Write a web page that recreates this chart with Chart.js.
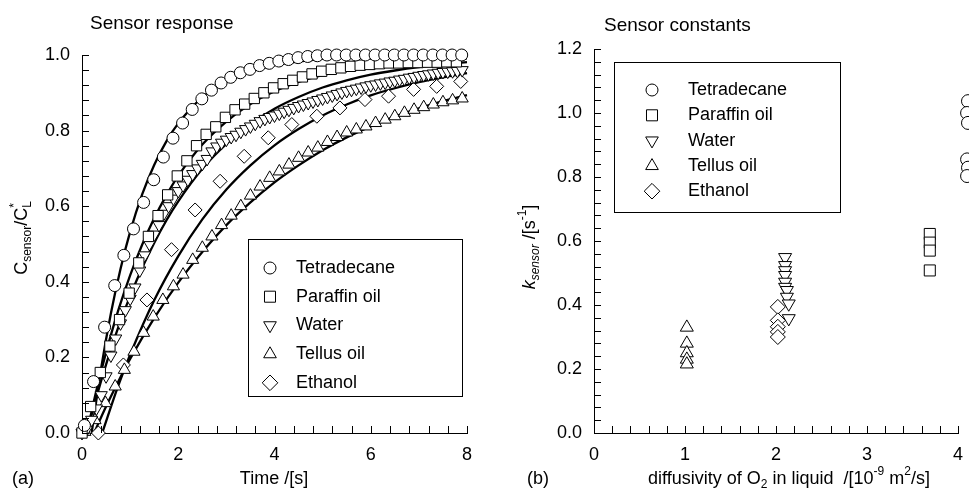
<!DOCTYPE html>
<html>
<head>
<meta charset="utf-8">
<script src="https://cdn.jsdelivr.net/npm/chart.js@4.4.0/dist/chart.umd.min.js"></script>
<style>
  html, body { margin: 0; padding: 0; background: #fff; }
  #wrap { position: relative; width: 969px; height: 498px; overflow: hidden; }
  .panel { position: absolute; top: 0; height: 498px; }
</style>
</head>
<body>
<div id="wrap">
  <div class="panel" style="left:0;width:484px"><canvas id="chartA"></canvas></div>
  <div class="panel" style="left:484px;width:485px"><canvas id="chartB"></canvas></div>
</div>
<script>
const FONT = "'Liberation Sans', Arial, Helvetica, sans-serif";

// ---- (a) Sensor response : mesures ----
const tetraTime = [0.05,0.24,0.47,0.68,0.87,1.07,1.28,1.49,1.69,1.89,2.09,2.29,2.49,2.69,2.89,3.09,3.29,3.49,3.69,3.89,4.09,4.29,4.49,4.69,4.89,5.09,5.29,5.49,5.69,5.89,6.09,6.29,6.49,6.69,6.89,7.09,7.29,7.49,7.69,7.89];
const tetraResp = [0.02,0.136,0.28,0.39,0.47,0.54,0.61,0.67,0.73,0.78,0.82,0.856,0.884,0.907,0.926,0.941,0.953,0.962,0.972,0.978,0.984,0.988,0.993,0.996,0.998,1.0,1.0,1.0,1.0,1.0,1.0,1.0,1.0,1.0,1.0,1.0,1.0,1.0,1.0,1.0];

const paraTime = [0.0,0.18,0.38,0.58,0.78,0.98,1.18,1.38,1.58,1.78,1.98,2.18,2.38,2.58,2.78,2.98,3.18,3.38,3.58,3.78,3.98,4.18,4.38,4.58,4.78,4.98,5.18,5.38,5.58,5.78,5.98,6.18,6.38,6.58,6.78,6.98,7.18,7.38,7.58,7.78];
const paraResp = [0.0,0.07,0.16,0.23,0.30,0.37,0.45,0.52,0.575,0.63,0.68,0.72,0.76,0.79,0.81,0.835,0.855,0.87,0.885,0.90,0.913,0.924,0.933,0.942,0.95,0.957,0.962,0.966,0.97,0.973,0.975,0.977,0.979,0.979,0.98,0.98,0.981,0.981,0.982,0.982];

const waterTime = [0.0,0.1,0.2,0.3,0.4,0.5,0.6,0.7,0.8,0.9,1.0,1.1,1.2,1.3,1.4,1.5,1.6,1.7,1.8,1.9,2.0,2.1,2.2,2.3,2.4,2.5,2.6,2.7,2.8,2.9,3.0,3.1,3.2,3.3,3.4,3.5,3.6,3.7,3.8,3.9,4.0,4.1,4.2,4.3,4.4,4.5,4.6,4.7,4.8,4.9,5.0,5.1,5.2,5.3,5.4,5.5,5.6,5.7,5.8,5.9,6.0,6.1,6.2,6.3,6.4,6.5,6.6,6.7,6.8,6.9,7.0,7.1,7.2,7.3,7.4,7.5,7.6,7.7,7.8,7.9];
const waterResp = [0.0,0.01,0.035,0.065,0.10,0.15,0.205,0.25,0.29,0.325,0.355,0.385,0.43,0.47,0.50,0.525,0.55,0.58,0.60,0.62,0.64,0.655,0.67,0.685,0.70,0.712,0.725,0.745,0.758,0.768,0.776,0.783,0.789,0.797,0.804,0.811,0.818,0.825,0.831,0.836,0.84,0.845,0.85,0.855,0.86,0.865,0.869,0.873,0.877,0.881,0.885,0.889,0.893,0.897,0.901,0.905,0.908,0.911,0.914,0.917,0.92,0.922,0.925,0.927,0.93,0.932,0.935,0.937,0.94,0.942,0.945,0.947,0.949,0.951,0.953,0.955,0.956,0.957,0.958,0.96];

const tellusTime = [0.06,0.27,0.49,0.69,0.88,1.08,1.28,1.48,1.68,1.9,2.1,2.3,2.5,2.7,2.9,3.1,3.3,3.5,3.7,3.9,4.1,4.3,4.5,4.7,4.9,5.1,5.3,5.5,5.7,5.9,6.1,6.3,6.5,6.7,6.9,7.1,7.3,7.5,7.7,7.9];
const tellusResp = [0.003,0.034,0.079,0.123,0.167,0.215,0.265,0.308,0.352,0.388,0.419,0.458,0.49,0.52,0.55,0.575,0.60,0.628,0.652,0.675,0.692,0.71,0.728,0.742,0.755,0.77,0.783,0.795,0.803,0.811,0.82,0.829,0.838,0.847,0.855,0.862,0.869,0.875,0.88,0.885];

const ethTime = [0.34,0.86,1.35,1.86,2.35,2.87,3.37,3.87,4.36,4.88,5.36,5.88,6.37,6.89,7.37,7.87];
const ethResp = [0.0,0.18,0.352,0.485,0.59,0.666,0.732,0.781,0.816,0.838,0.86,0.882,0.891,0.909,0.917,0.93];

// ---- (a) courbes ajustées ----
const tetraFitT = [0.2,0.4,0.6,0.8,1.0,1.25,1.5,1.75,2.0,2.5,3.0,3.5,4.0,5.0,6.0,7.0,8.0];
const tetraFitC = [0,0.173,0.316,0.434,0.532,0.631,0.709,0.771,0.819,0.888,0.930,0.956,0.973,0.990,0.996,0.998,0.999];
const paraFitT = [0.1,0.3,0.5,0.75,1.0,1.25,1.5,1.75,2.0,2.5,3.0,3.5,4.0,4.5,5.0,5.5,6.0,6.5,7.0,7.5,8.0];
const paraFitC = [0,0.113,0.213,0.323,0.417,0.498,0.568,0.628,0.680,0.763,0.824,0.870,0.904,0.929,0.947,0.961,0.971,0.979,0.984,0.988,0.991];
const waterFitT = [0.1,0.3,0.5,0.75,1.0,1.25,1.5,1.75,2.0,2.5,3.0,3.5,4.0,4.5,5.0,5.5,6.0,6.5,7.0,7.5,8.0];
const waterFitC = [0,0.095,0.181,0.278,0.362,0.437,0.503,0.562,0.613,0.699,0.765,0.817,0.858,0.889,0.914,0.933,0.948,0.959,0.968,0.975,0.981];
const tellusFitT = [0.25,0.5,0.75,1.0,1.5,2.0,2.5,3.0,3.5,4.0,4.5,5.0,5.5,6.0,6.5,7.0,7.5,8.0];
const tellusFitC = [0,0.070,0.135,0.196,0.304,0.398,0.479,0.550,0.610,0.663,0.708,0.748,0.782,0.811,0.837,0.859,0.878,0.894];
const ethFitT = [0.42,0.75,1.0,1.5,2.0,2.5,3.0,3.5,4.0,4.5,5.0,5.5,6.0,6.5,7.0,7.5,8.0];
const ethFitC = [0,0.124,0.207,0.351,0.468,0.565,0.644,0.708,0.761,0.804,0.840,0.869,0.893,0.912,0.928,0.941,0.952];

// ---- (b) Sensor constants ----
// x de Tetradecane non triés : Chart.js garde alors les points au-delà de max
const tetraD = [4.11,4.10,4.11,4.10,4.11,4.10];
const tetraK = [1.037,1.0,0.969,0.855,0.829,0.803];
const paraD = [3.69,3.69,3.69,3.69];
const paraK = [0.622,0.595,0.57,0.508];
const waterD = [2.1,2.1,2.1,2.1,2.1,2.1,2.12,2.12,2.14,2.14];
const waterK = [0.549,0.524,0.508,0.493,0.472,0.456,0.446,0.425,0.404,0.358];
const tellusD = [1.02,1.02,1.02,1.02,1.02];
const tellusK = [0.33,0.28,0.25,0.23,0.215];
const ethD = [2.02,2.02,2.02,2.02,2.02];
const ethK = [0.394,0.352,0.332,0.316,0.30];

const liquids = ['Tetradecane', 'Paraffin oil', 'Water', 'Tellus oil', 'Ethanol'];
const markers = [
  { style: 'circle', rot: 0 },
  { style: 'rect', rot: 0 },
  { style: 'triangle', rot: 180 },
  { style: 'triangle', rot: 0 },
  { style: 'rectRot', rot: 0 }
];

const pts = (xs, ys) => xs.map((x, i) => ({ x: x, y: ys[i] }));

function markerSet(xs, ys, idx, radius) {
  return {
    data: pts(xs, ys),
    showLine: false,
    pointStyle: markers[idx].style,
    rotation: markers[idx].rot,
    pointRadius: radius[idx],
    // marge du test "point dans la zone" : laisse passer les cercles coupés au bord droit
    pointHoverRadius: 16,
    pointBackgroundColor: '#fff',
    pointBorderColor: '#000',
    pointBorderWidth: 1,
    clip: false,
    order: 1
  };
}

function fitSet(xs, ys) {
  return {
    data: pts(xs, ys),
    showLine: true,
    pointRadius: 0,
    borderColor: '#000',
    borderWidth: 2.3,
    cubicInterpolationMode: 'monotone',
    clip: false,
    order: 2
  };
}

// texte avec indices / exposants
function partFont(p, size) {
  const s = (p.sub || p.sup) ? Math.round(size * 0.68) : size;
  return (p.italic ? 'italic ' : '') + s + 'px ' + FONT;
}
function richWidth(ctx, parts, size) {
  let w = 0, last = 0;
  parts.forEach(p => {
    ctx.font = partFont(p, size);
    const pw = ctx.measureText(p.t).width;
    if (p.stack) { w += Math.max(0, pw - last); } else { w += pw; last = pw; }
  });
  return w;
}
function drawRich(ctx, parts, x, y, size, rotate) {
  ctx.save();
  ctx.translate(x, y);
  if (rotate) ctx.rotate(-Math.PI / 2);
  ctx.fillStyle = '#000';
  ctx.textBaseline = 'middle';
  ctx.textAlign = 'left';
  let cx = -richWidth(ctx, parts, size) / 2;
  let lastStart = cx, lastW = 0;
  parts.forEach(p => {
    ctx.font = partFont(p, size);
    const pw = ctx.measureText(p.t).width;
    const dy = p.sub ? size * 0.3 : (p.sup ? -size * 0.38 : 0);
    if (p.stack) {
      ctx.fillText(p.t, lastStart, dy);
      cx = lastStart + Math.max(lastW, pw);
    } else {
      ctx.fillText(p.t, cx, dy);
      lastStart = cx; lastW = pw;
      cx += pw;
    }
  });
  ctx.restore();
}

function drawMarker(ctx, m, radius, x, y) {
  ctx.save();
  ctx.fillStyle = '#fff';
  ctx.strokeStyle = '#000';
  ctx.lineWidth = 1;
  Chart.helpers.drawPoint(ctx, { pointStyle: m.style, rotation: m.rot, radius: radius, borderWidth: 1 }, x, y);
  ctx.restore();
}

const TICK = 7;

const decorPlugin = {
  id: 'decor',
  afterDraw(chart, args, opts) {
    const ctx = chart.ctx;
    const xs = chart.scales.x, ys = chart.scales.y;
    const area = chart.chartArea;
    ctx.save();
    ctx.strokeStyle = '#000';
    ctx.lineWidth = 1;
    // graduations tournées vers l'intérieur
    ctx.beginPath();
    for (let i = 0; i <= opts.xMinor.n; i++) {
      const px = Math.round(xs.getPixelForValue(opts.xMinor.start + i * opts.xMinor.step)) + 0.5;
      ctx.moveTo(px, area.bottom);
      ctx.lineTo(px, area.bottom - TICK);
    }
    for (let i = 0; i <= opts.yMinor.n; i++) {
      const py = Math.round(ys.getPixelForValue(opts.yMinor.start + i * opts.yMinor.step)) + 0.5;
      ctx.moveTo(area.left, py);
      ctx.lineTo(area.left + TICK, py);
    }
    ctx.stroke();

    // titre, étiquette du panneau, titres des axes
    ctx.fillStyle = '#000';
    ctx.textBaseline = 'middle';
    ctx.textAlign = 'left';
    ctx.font = opts.titleSize + 'px ' + FONT;
    ctx.fillText(opts.title, opts.titleX, opts.titleY);
    ctx.font = '18px ' + FONT;
    ctx.fillText(opts.panel, opts.panelX, opts.panelY);
    drawRich(ctx, opts.xTitle, opts.xTitleX, opts.xTitleY, 18, false);
    drawRich(ctx, opts.yTitle, opts.yTitleX, opts.yTitleY, 18, true);

    // légende encadrée
    const lb = opts.legend;
    ctx.lineWidth = 1;
    ctx.strokeRect(lb.x + 0.5, lb.y + 0.5, lb.w, lb.h);
    liquids.forEach((name, i) => {
      const ry = lb.rowY + i * lb.rowH;
      drawMarker(ctx, markers[i], lb.radius[i], lb.markX, ry);
      ctx.fillStyle = '#000';
      ctx.font = '18px ' + FONT;
      ctx.textBaseline = 'middle';
      ctx.fillText(name, lb.textX, ry);
    });
    ctx.restore();
  }
};

// taille fixe des boîtes d'axes -> zone de tracé imposée
const fixWidth = w => scale => { scale.width = w; scale.paddingTop = scale.paddingBottom = 0; };
const fixHeight = h => scale => { scale.height = h; scale.paddingLeft = scale.paddingRight = 0; };

Chart.defaults.font.family = FONT;
Chart.defaults.font.size = 18;
Chart.defaults.color = '#000';

const radA = [6, 7.3, 7, 7, 7];
const radB = [6.5, 7.8, 7.5, 7.5, 7.5];
const radLegend = [6, 7.8, 7.3, 7.3, 7.8];

new Chart(document.getElementById('chartA'), {
  type: 'scatter',
  data: {
    datasets: [
      fitSet(tetraFitT, tetraFitC),
      fitSet(paraFitT, paraFitC),
      fitSet(waterFitT, waterFitC),
      fitSet(tellusFitT, tellusFitC),
      fitSet(ethFitT, ethFitC),
      markerSet(tetraTime, tetraResp, 0, radA),
      markerSet(paraTime, paraResp, 1, radA),
      markerSet(waterTime, waterResp, 2, radA),
      markerSet(tellusTime, tellusResp, 3, radA),
      markerSet(ethTime, ethResp, 4, radA)
    ]
  },
  options: {
    responsive: true,
    maintainAspectRatio: false,
    animation: false,
    events: [],
    layout: { autoPadding: false, padding: { left: 0, right: 17, top: 55, bottom: 0 } },
    plugins: {
      legend: { display: false },
      tooltip: { enabled: false },
      decor: {
        xMinor: { start: 0, step: 0.4, n: 20 },
        yMinor: { start: 0, step: 0.04, n: 25 },
        title: 'Sensor response', titleSize: 19, titleX: 90, titleY: 24,
        panel: '(a)', panelX: 12, panelY: 479,
        xTitle: [{ t: 'Time /[s]' }], xTitleX: 274, xTitleY: 479,
        yTitle: [{ t: 'C' }, { t: 'sensor', sub: true }, { t: '/C' }, { t: 'L', sub: true }, { t: '*', sup: true, stack: true }],
        yTitleX: 22, yTitleY: 238,
        legend: { x: 248, y: 239, w: 214, h: 157, rowY: 268, rowH: 28.7, markX: 270, textX: 296, radius: radLegend }
      }
    },
    scales: {
      x: {
        type: 'linear', min: 0, max: 8,
        grid: { display: false, drawTicks: false },
        border: { display: true, color: '#000', width: 1 },
        ticks: { stepSize: 2, padding: 11, callback: v => String(v) },
        afterFit: fixHeight(65)
      },
      y: {
        type: 'linear', min: 0, max: 1,
        grid: { display: false, drawTicks: false },
        border: { display: true, color: '#000', width: 1 },
        ticks: { stepSize: 0.2, padding: 12, callback: v => v.toFixed(1) },
        afterFit: fixWidth(82)
      }
    }
  },
  plugins: [decorPlugin]
});

new Chart(document.getElementById('chartB'), {
  type: 'scatter',
  data: {
    datasets: [
      markerSet(tetraD, tetraK, 0, radB),
      markerSet(paraD, paraK, 1, radB),
      markerSet(waterD, waterK, 2, radB),
      markerSet(tellusD, tellusK, 3, radB),
      markerSet(ethD, ethK, 4, radB)
    ]
  },
  options: {
    responsive: true,
    maintainAspectRatio: false,
    animation: false,
    events: [],
    layout: { autoPadding: false, padding: { left: 0, right: 11, top: 49, bottom: 0 } },
    plugins: {
      legend: { display: false },
      tooltip: { enabled: false },
      decor: {
        xMinor: { start: 0, step: 0.2, n: 20 },
        yMinor: { start: 0, step: 0.04, n: 30 },
        title: 'Sensor constants', titleSize: 19, titleX: 120, titleY: 26,
        panel: '(b)', panelX: 43, panelY: 479,
        xTitle: [{ t: 'diffusivity of O' }, { t: '2', sub: true }, { t: ' in liquid  /[10' }, { t: '-9', sup: true }, { t: ' m' }, { t: '2', sup: true }, { t: '/s]' }],
        xTitleX: 305, xTitleY: 479,
        yTitle: [{ t: 'k', italic: true }, { t: 'sensor', sub: true, italic: true }, { t: ' /[s' }, { t: '-1', sup: true }, { t: ']' }],
        yTitleX: 46, yTitleY: 247,
        legend: { x: 130, y: 62, w: 226, h: 150, rowY: 90, rowH: 25.3, markX: 168, textX: 204, radius: radLegend }
      }
    },
    scales: {
      x: {
        type: 'linear', min: 0, max: 4,
        grid: { display: false, drawTicks: false },
        border: { display: true, color: '#000', width: 1 },
        ticks: { stepSize: 1, padding: 11, callback: v => String(v) },
        afterFit: fixHeight(65)
      },
      y: {
        type: 'linear', min: 0, max: 1.2,
        grid: { display: false, drawTicks: false },
        border: { display: true, color: '#000', width: 1 },
        ticks: { stepSize: 0.2, padding: 12, callback: v => v.toFixed(1) },
        afterFit: fixWidth(110)
      }
    }
  },
  plugins: [decorPlugin]
});
</script>
</body>
</html>
